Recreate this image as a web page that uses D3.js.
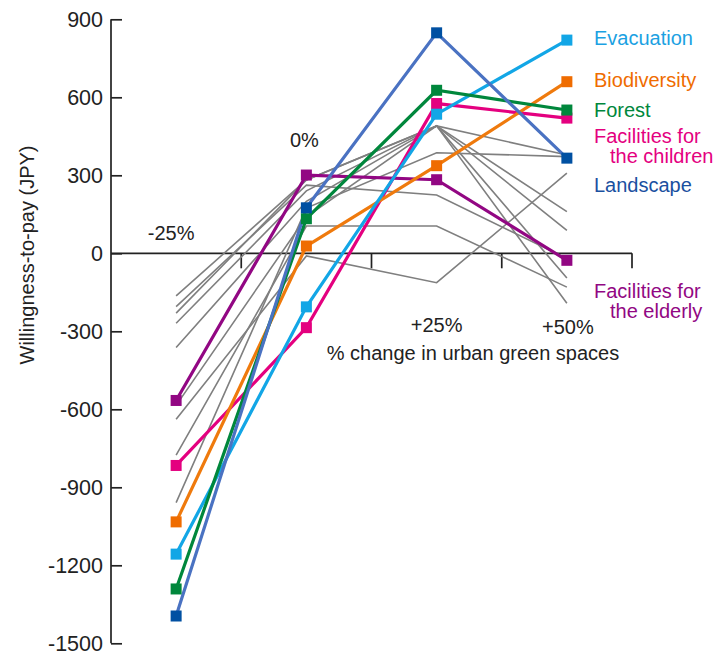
<!DOCTYPE html>
<html><head><meta charset="utf-8">
<script src="https://cdn.jsdelivr.net/npm/d3@7"></script>
<style>body{margin:0;background:#fff}svg text{font-family:"Liberation Sans",Arial,sans-serif}</style>
</head><body><svg id="c" width="717" height="657"></svg>
<script>
const categories = ["-25%", "0%", "+25%", "+50%"];
const yTicks = [900, 600, 300, 0, -300, -600, -900, -1200, -1500];
const seriesNames = ["Landscape", "Forest", "Evacuation", "Biodiversity", "Facilities for the children", "Facilities for the elderly"];
const landscape = [-1395, 175, 848, 366];
const forest = [-1291, 133, 627, 551];
const evacuation = [-1157, -206, 535, 820];
const biodiversity = [-1033, 28, 337, 660];
const children = [-816, -286, 576, 520];
const elderly = [-566, 301, 283, -27];
const grey1 = [-164, 282, 490, 160];
const grey2 = [-205, 262, 224, -20];
const grey3 = [-269, 240, 490, 378];
const grey4 = [-362, 200, 490, 88];
const grey5 = [-585, 140, 490, -95];
const grey6 = [-638, -10, -113, 308];
const grey7 = [-776, 105, 105, -130];
const grey8 = [-959, 174, 387, 372];
const grey9 = [-230, 282, 490, -192];
const greys = [grey1, grey2, grey3, grey4, grey5, grey6, grey7, grey8, grey9];

const svg = d3.select("#c");
const x = d3.scaleBand().domain(categories).range([111, 632]).padding(0);
const y = d3.scaleLinear().domain([-1500, 900]).range([643.3, 19.3]);
const cx = c => x(c) + x.bandwidth() / 2;

// Y axis
const yAxis = svg.append("g").attr("transform", "translate(111,0)")
  .call(d3.axisRight(y).tickValues(yTicks).tickSize(11).tickFormat(""));
yAxis.select(".domain").attr("d", `M0,${y(900)}V${y(-1500)}`).attr("stroke", "#222").attr("stroke-width", 1.7);
yAxis.selectAll(".tick line").attr("stroke", "#222").attr("stroke-width", 1.7);
svg.append("g").selectAll("text").data(yTicks).join("text")
  .attr("x", 103).attr("y", d => y(d)).attr("dy", "0.36em")
  .attr("text-anchor", "end").attr("font-size", 21.5).attr("fill", "#222")
  .text(d => d);

// X axis at zero
const xAxis = svg.append("g").attr("transform", `translate(0,${y(0)})`)
  .call(d3.axisBottom(x).tickSize(0).tickFormat(""));
xAxis.select(".domain").attr("d", `M111,0H632`).attr("stroke", "#222").attr("stroke-width", 1.7);
xAxis.selectAll(".tick").remove();
svg.append("g").selectAll("line").data(categories).join("line")
  .attr("x1", d => x(d) + x.bandwidth()).attr("x2", d => x(d) + x.bandwidth())
  .attr("y1", y(0)).attr("y2", y(0) + 15).attr("stroke", "#222").attr("stroke-width", 1.7);

// Category labels (placed around the chart as in the original)
const catLabelY = [233, 140, 325, 327];
const catLabelDx = [-5, -2, 0, 1];
svg.append("g").selectAll("text").data(categories).join("text")
  .attr("x", (d, i) => cx(d) + catLabelDx[i]).attr("y", (d, i) => catLabelY[i]).attr("dy", "0.36em")
  .attr("text-anchor", "middle").attr("font-size", 20).attr("fill", "#222").text(d => d);

svg.append("text").attr("x", 473).attr("y", 353).attr("dy", "0.36em").attr("text-anchor", "middle")
  .attr("font-size", 20).attr("fill", "#222").text("% change in urban green spaces");
svg.append("text").attr("transform", "translate(34,255) rotate(-90)").attr("text-anchor", "middle")
  .attr("font-size", 20).attr("fill", "#222").text("Willingness-to-pay (JPY)");

const line = d3.line().x((d, i) => cx(categories[i])).y(d => y(d));

// grey lines
svg.append("g").selectAll("path").data(greys).join("path")
  .attr("d", line).attr("fill", "none").attr("stroke", "#7f7f7f").attr("stroke-width", 1.6);

const colored = [
  {vals: elderly, line: "#920783", mark: "#920783"},
  {vals: children, line: "#e4007f", mark: "#e4007f"},
  {vals: biodiversity, line: "#ef7a0d", mark: "#ef6c00"},
  {vals: evacuation, line: "#12a6e6", mark: "#12a6e6"},
  {vals: forest, line: "#00873c", mark: "#00873c"},
  {vals: landscape, line: "#4a72c2", mark: "#0050a2"}
];
const g = svg.append("g");
colored.forEach(s => {
  g.append("path").attr("d", line(s.vals)).attr("fill", "none").attr("stroke", s.line).attr("stroke-width", 3.2);
});
colored.forEach(s => {
  g.selectAll(null).data(s.vals).join("rect")
    .attr("x", (d, i) => cx(categories[i]) - 5.5).attr("y", d => y(d) - 5.5)
    .attr("width", 11).attr("height", 11).attr("fill", s.mark);
});

// legend labels
const legend = [
  {lines: ["Evacuation"], y: 38, c: "#1ba1e2"},
  {lines: ["Biodiversity"], y: 80, c: "#ef6c00"},
  {lines: ["Forest"], y: 110, c: "#00873c"},
  {lines: ["Facilities for", "the children"], y: 136, c: "#e4007f"},
  {lines: ["Landscape"], y: 185, c: "#1a50a0"},
  {lines: ["Facilities for", "the elderly"], y: 291, c: "#920783"}
];
legend.forEach(l => {
  l.lines.forEach((t, k) => {
    svg.append("text").attr("x", k ? 610 : 594).attr("y", l.y + k * 20).attr("dy", "0.36em")
      .attr("font-size", 20).attr("fill", l.c).text(t);
  });
});
</script></body></html>
